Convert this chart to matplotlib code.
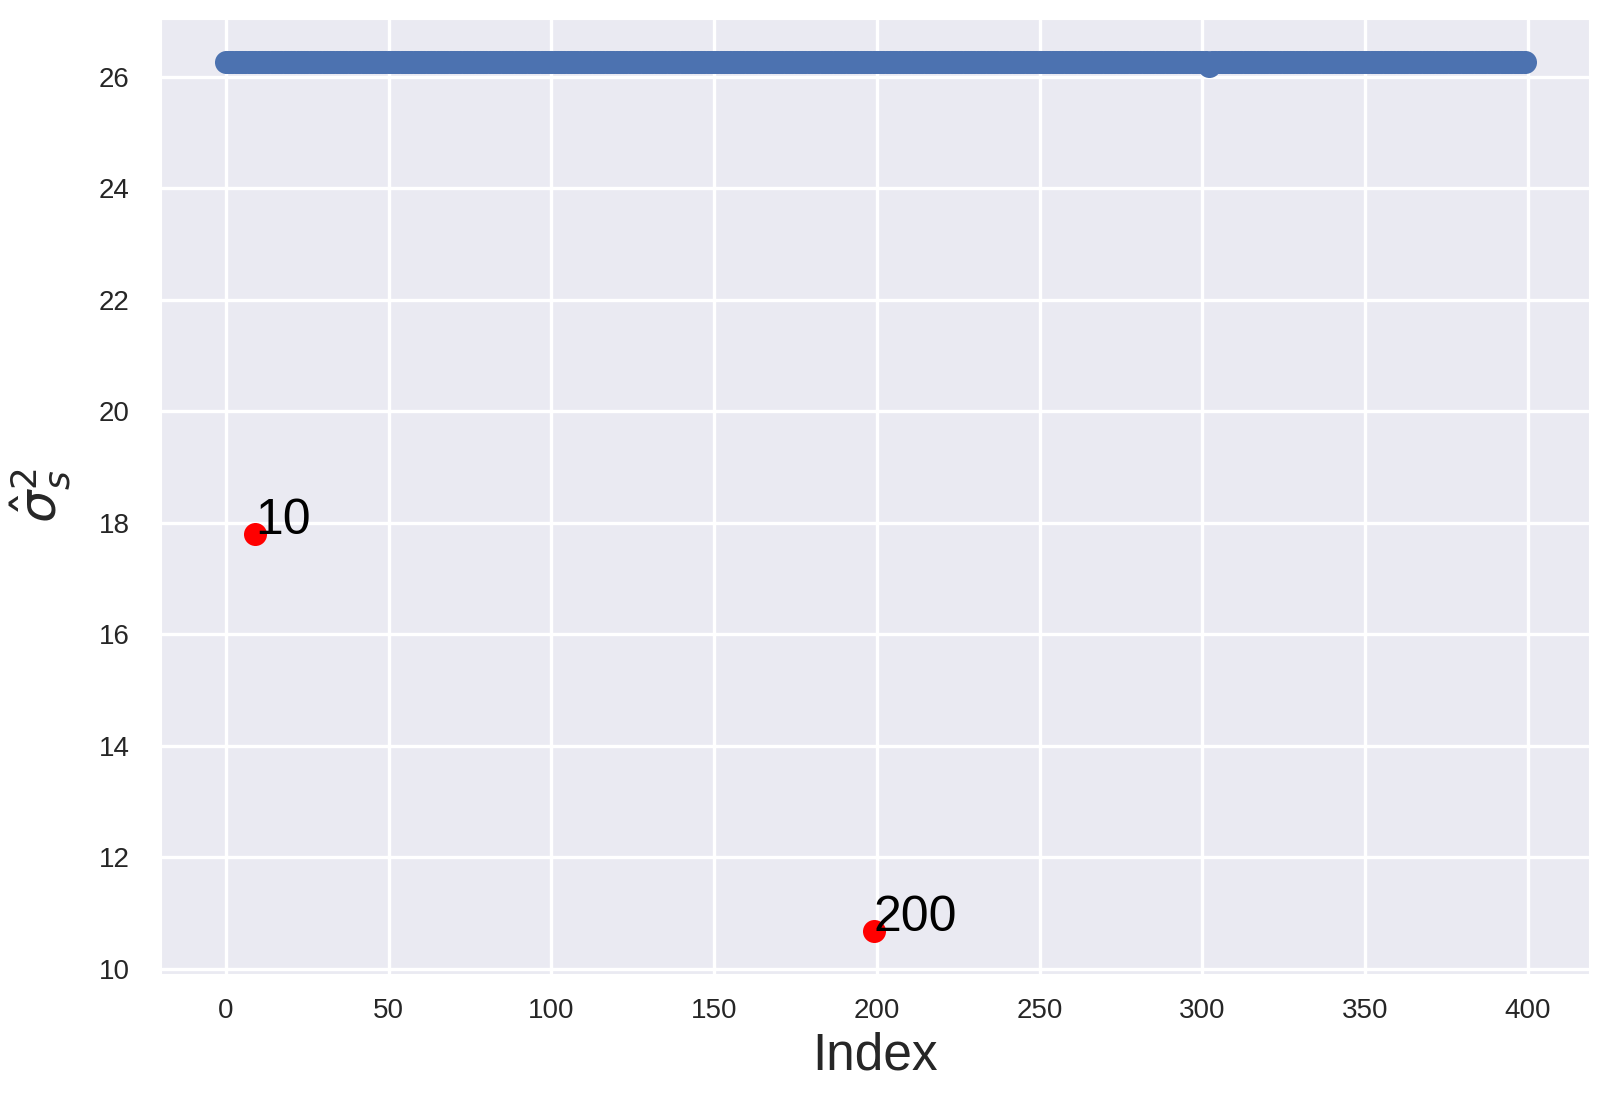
import numpy as np
import matplotlib
matplotlib.use("Agg")
import matplotlib.pyplot as plt
import seaborn as sns

sns.set_style("darkgrid")
plt.rcParams['font.family'] = ['Liberation Sans', 'DejaVu Sans']

# variance estimate for each observation #
n_obs = 400
sigma_hat = [26.26] * n_obs
sigma_hat[302] = 26.18

# flagged observations (0-based index) and their values #
outliers = [9, 199]
outlier_vals = [17.80, 10.69]

index = np.arange(n_obs)

fig = plt.figure(figsize=(16.12, 10.93), dpi=100)
ax = fig.add_axes([0.0999, 0.1089, 0.8861, 0.8741])

ax.scatter(index, sigma_hat, s=275, color="#4C72B0", linewidths=0)
ax.scatter(outliers, outlier_vals, s=275, color="red", linewidths=0, zorder=3)
for i, v in zip(outliers, outlier_vals):
    ax.annotate(str(i + 1), (i, v), fontsize=36, color="black")

ax.set_yticks(np.arange(10, 27, 2))
ax.set_xticks(np.arange(0, 401, 50))
ax.grid(True, color="white", linewidth=2.4)
ax.tick_params(labelsize=20, colors="#262626")
ax.tick_params(axis="x", pad=14)
ax.tick_params(axis="y", pad=19)
ax.set_xlabel("Index", fontsize=37, labelpad=5)
ax.set_ylabel(r"$\hat{\sigma}_s^2$", fontsize=37, labelpad=18)

fig.savefig("out.png", dpi=100)
